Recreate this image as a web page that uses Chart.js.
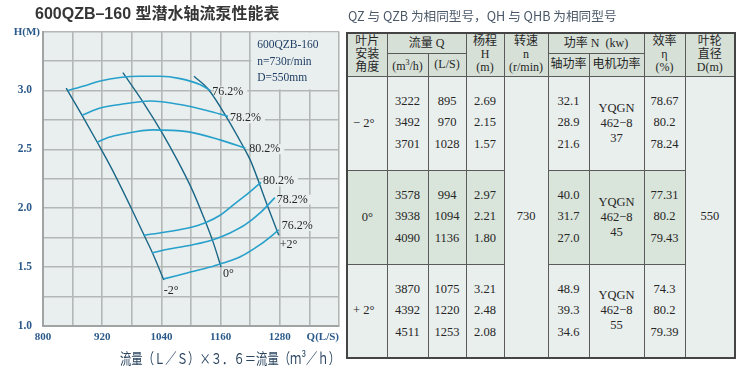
<!DOCTYPE html>
<html><head><meta charset="utf-8">
<script src="https://cdn.jsdelivr.net/npm/chart.js@4.4.1/dist/chart.umd.min.js"></script>
<style>
html,body{margin:0;padding:0;background:#fff;width:752px;height:370px;overflow:hidden;}
#wrap{position:relative;width:752px;height:370px;}
#cv{position:absolute;left:0;top:0;}
.title{position:absolute;left:35px;top:6px;font:bold 16px/16px "Liberation Sans","Noto Sans CJK SC",sans-serif;color:#363636;white-space:nowrap;}
.note{position:absolute;left:348px;top:8px;font:12.5px/16px "Noto Sans CJK SC",sans-serif;color:#4a5868;white-space:nowrap;transform-origin:0 50%;}
.cap{position:absolute;left:120px;top:349px;font:15px/18px "Noto Sans CJK SC",sans-serif;color:#2b4560;white-space:nowrap;transform-origin:0 50%;}
table{position:absolute;left:346px;top:32px;border-collapse:collapse;table-layout:fixed;font-family:"Liberation Serif","Noto Sans CJK SC",serif;font-size:12.5px;color:#262626;border:2px solid #444;}
td,th{border:1.5px solid #5a5a5a;padding:0;text-align:center;vertical-align:middle;font-weight:normal;overflow:hidden;}
th{background:#d6e0d7;font-size:12px;line-height:13px;}
.lt{background:#e9efed;}
.gr{background:#d9e4da;}
.v{line-height:21.5px;}
.m{line-height:15px;}
.ang{text-align:left;padding-left:5px;}
</style></head><body>
<div id="wrap">
<canvas id="cv" width="346" height="370"></canvas>
<div class="title">600QZB–160 型潜水轴流泵性能表</div>
<div class="note" id="note">QZ 与 QZB 为相同型号，QH 与 QHB 为相同型号</div>
<div class="cap" id="cap">流量（Ｌ／Ｓ）×３．６＝流量（ｍ³／ｈ）</div>
<table id="tb"></table>
</div>
<script>
// ---------- chart data: Q (L/s) and H (m) ----------
const xTickLabels = [800, 920, 1040, 1160, 1280];
const yTickLabels = [1.0, 1.5, 2.0, 2.5, 3.0];

const bladeM2Q = [847, 879, 910, 940, 979, 1005, 1022, 1045];
const bladeM2H = [3.02, 2.79, 2.56, 2.33, 2.00, 1.77, 1.62, 1.39];
const blade0Q  = [962, 1006, 1040, 1072, 1102, 1125, 1145, 1161];
const blade0H  = [3.15, 2.88, 2.65, 2.41, 2.16, 1.93, 1.71, 1.50];
const bladeP2Q = [1106, 1135, 1171, 1205, 1220, 1256, 1278];
const bladeP2H = [3.12, 3.01, 2.78, 2.53, 2.41, 2.01, 1.77];

const eff762UQ = [851, 885, 916, 956, 997, 1037, 1078, 1118, 1139];
const eff762UH = [3.00, 3.04, 3.08, 3.11, 3.12, 3.12, 3.10, 3.05, 3.00];
const eff782UQ = [879, 916, 956, 1017, 1078, 1132, 1175];
const eff782UH = [2.79, 2.85, 2.88, 2.91, 2.88, 2.83, 2.78];
const eff802UQ = [910, 932, 962, 1023, 1092, 1159, 1210];
const eff802UH = [2.56, 2.60, 2.63, 2.665, 2.65, 2.58, 2.51];
const eff802LQ = [1003, 1037, 1092, 1128, 1159, 1191, 1220, 1242];
const eff802LH = [1.77, 1.79, 1.83, 1.875, 1.94, 2.045, 2.14, 2.22];
const eff782LQ = [1021, 1058, 1104, 1143, 1179, 1210, 1240, 1270];
const eff782LH = [1.62, 1.655, 1.69, 1.73, 1.79, 1.86, 1.96, 2.09];
const eff762LQ = [1045, 1092, 1139, 1165, 1199, 1240, 1278];
const eff762LH = [1.40, 1.45, 1.50, 1.535, 1.585, 1.69, 1.815];

const bladeNames = ['-2°', '0°', '+2°'];
const effNames = ['76.2%', '78.2%', '80.2%', '80.2%', '78.2%', '76.2%'];

// ---------- table data ----------
const angles = ['− 2°', '0°', '+ 2°'];
const flowM3 = [[3222, 3492, 3701], [3578, 3938, 4090], [3870, 4392, 4511]];
const flowLs = [[895, 970, 1028], [994, 1094, 1136], [1075, 1220, 1253]];
const heads  = [['2.69', '2.15', '1.57'], ['2.97', '2.21', '1.80'], ['3.21', '2.48', '2.08']];
const speed = '730';
const shaftPow = [['32.1', '28.9', '21.6'], ['40.0', '31.7', '27.0'], ['48.9', '39.3', '34.6']];
const motors = ['37', '45', '55'];
const effs = [['78.67', '80.2', '78.24'], ['77.31', '80.2', '79.43'], ['74.3', '80.2', '79.39']];
const diameter = '550';

function pts(q, h) { return q.map((v, i) => ({x: v, y: h[i]})); }

const BLADE = '#1b6788', EFF = '#27a0cb';
function ds(q, h, color, w) {
  return {data: pts(q, h), showLine: true, borderColor: color, borderWidth: w, pointRadius: 0,
          cubicInterpolationMode: 'monotone', fill: false};
}
const blades = [[bladeM2Q, bladeM2H], [blade0Q, blade0H], [bladeP2Q, bladeP2H]];
const effCurves = [[eff762UQ, eff762UH], [eff782UQ, eff782UH], [eff802UQ, eff802UH],
                   [eff802LQ, eff802LH], [eff782LQ, eff782LH], [eff762LQ, eff762LH]];
const datasets = [];
effCurves.forEach(c => datasets.push(ds(c[0], c[1], EFF, 1.6)));
blades.forEach(c => datasets.push(ds(c[0], c[1], BLADE, 1.4)));

const PLOT_BG = '#e9efee';
const effOff = [[2, 1], [2, 2], [4, 1], [2, -1], [2, 2], [3, -4]];
const bladeOff = [[0, 11], [2, 7], [1, 10]];

const decor = {
  id: 'decor',
  beforeDraw(c) {
    const {ctx, chartArea: a} = c;
    ctx.save(); ctx.fillStyle = PLOT_BG;
    ctx.fillRect(a.left, a.top, a.right - a.left, a.bottom - a.top);
    ctx.restore();
  },
  beforeDatasetsDraw(c) {
    const {ctx} = c, x = c.scales.x, y = c.scales.y;
    ctx.save();
    const x0 = x.getPixelForValue(1220) + 1, x1 = x.getPixelForValue(1400) - 1;
    const y0 = y.getPixelForValue(3.5) + 1, y1 = y.getPixelForValue(3.0) - 1;
    ctx.fillStyle = PLOT_BG; ctx.fillRect(x0, y0, x1 - x0, y1 - y0);
    ctx.fillStyle = '#1f3d63'; ctx.font = '11.5px "Liberation Serif"';
    ctx.textAlign = 'left'; ctx.textBaseline = 'middle';
    ctx.fillText('600QZB-160', x0 + 6, 45);
    ctx.fillText('n=730r/min', x0 + 6, 62);
    ctx.fillText('D=550mm', x0 + 6, 78);
    ctx.restore();
  },
  afterDatasetsDraw(c) {
    const {ctx} = c, x = c.scales.x, y = c.scales.y;
    ctx.save();
    ctx.textBaseline = 'middle'; ctx.textAlign = 'left';
    ctx.font = '12px "Liberation Serif"';
    effCurves.forEach((cv, i) => {
      const n = cv[0].length - 1;
      const px = x.getPixelForValue(cv[0][n]) + effOff[i][0];
      const py = y.getPixelForValue(cv[1][n]) + effOff[i][1];
      const w = ctx.measureText(effNames[i]).width;
      ctx.fillStyle = PLOT_BG; ctx.fillRect(px + 2, py - 5, w + 2, 10);
      ctx.fillStyle = '#262626'; ctx.fillText(effNames[i], px, py);
    });
    blades.forEach((cv, i) => {
      const n = cv[0].length - 1;
      const px = x.getPixelForValue(cv[0][n]) + bladeOff[i][0];
      const py = y.getPixelForValue(cv[1][n]) + bladeOff[i][1];
      ctx.fillStyle = '#262626'; ctx.fillText(bladeNames[i], px, py);
    });
    ctx.fillStyle = '#2b5a8a'; ctx.font = 'bold 11px "Liberation Serif"';
    ctx.textAlign = 'right';
    ctx.fillText('H(M)', 40, y.getPixelForValue(3.5) + 1);
    ctx.fillText('Q(L/S)', x.getPixelForValue(1400), 337);
    ctx.restore();
  }
};

new Chart(document.getElementById('cv'), {
  type: 'scatter',
  data: {datasets},
  options: {
    responsive: false, animation: false, events: [],
    layout: {padding: {left: 0, right: 7, top: 31.5, bottom: 0}},
    plugins: {legend: {display: false}, tooltip: {enabled: false}},
    scales: {
      x: {type: 'linear', min: 800, max: 1400,
          afterFit(s) { s.height = 44; },
          grid: {color: '#b3b7b6', lineWidth: 1.6, drawTicks: false},
          border: {display: true, color: '#a0a4a3', width: 2},
          ticks: {stepSize: 60, autoSkip: false, maxRotation: 0, padding: 5, color: '#2b5a8a',
                  font: {family: 'Liberation Serif', size: 11, weight: 'bold'},
                  callback: v => xTickLabels.includes(v) && v !== 1400 ? String(v) : ''}},
      y: {type: 'linear', min: 1, max: 3.5,
          afterFit(s) { s.width = 43; },
          grid: {color: '#b3b7b6', lineWidth: 1.6, drawTicks: false},
          border: {display: true, color: '#a0a4a3', width: 2},
          ticks: {stepSize: 0.25, autoSkip: false, padding: 11, color: '#2b5a8a',
                  font: {family: 'Liberation Serif', size: 11.5, weight: 'bold'},
                  callback: v => yTickLabels.some(t => Math.abs(t - v) < 1e-6) ? v.toFixed(1) : ''}}
    }
  },
  plugins: [decor]
});

// ---------- table ----------
(function () {
  const cols = [40, 41, 38, 38, 44, 41, 55, 41, 50];
  let h = '<colgroup>' + cols.map(w => `<col style="width:${w}px">`).join('') + '</colgroup>';
  h += '<tr style="height:20px"><th rowspan="2">叶片<br>安装<br>角度</th><th colspan="2">流量 Q</th>' +
       '<th rowspan="2">杨程<br>H<br>(m)</th><th rowspan="2">转速<br>n<br>(r/min)</th>' +
       '<th colspan="2">功率 N&nbsp;&nbsp;(kw)</th><th rowspan="2">效率<br>η<br>(%)</th>' +
       '<th rowspan="2">叶轮<br>直径<br>D(m)</th></tr>';
  h += '<tr style="height:23px"><th>(m<sup style="font-size:8px">3</sup>/h)</th><th>(L/S)</th><th>轴功率</th><th>电机功率</th></tr>';
  const v3 = a => '<div class="v">' + a.join('<br>') + '</div>';
  angles.forEach((ang, i) => {
    const cls = i === 1 ? 'gr' : 'lt';
    h += '<tr style="height:94px">';
    h += `<td class="${cls}${i === 1 ? '' : ' ang'}">${ang}</td>`;
    h += `<td class="${cls}">${v3(flowM3[i])}</td><td class="${cls}">${v3(flowLs[i])}</td><td class="${cls}">${v3(heads[i])}</td>`;
    if (i === 0) h += `<td rowspan="3" class="lt">${speed}</td>`;
    h += `<td class="${cls}">${v3(shaftPow[i])}</td>`;
    h += `<td class="${cls}"><div class="m">YQGN<br>462−8<br>${motors[i]}</div></td>`;
    h += `<td class="${cls}">${v3(effs[i])}</td>`;
    if (i === 0) h += `<td rowspan="3" class="lt">${diameter}</td>`;
    h += '</tr>';
  });
  document.getElementById('tb').innerHTML = h;
  const fit = (id, w) => { const e = document.getElementById(id); e.style.transform = `scaleX(${w / e.offsetWidth})`; };
  fit('note', 269); fit('cap', 220);
})();
</script>
</body></html>
